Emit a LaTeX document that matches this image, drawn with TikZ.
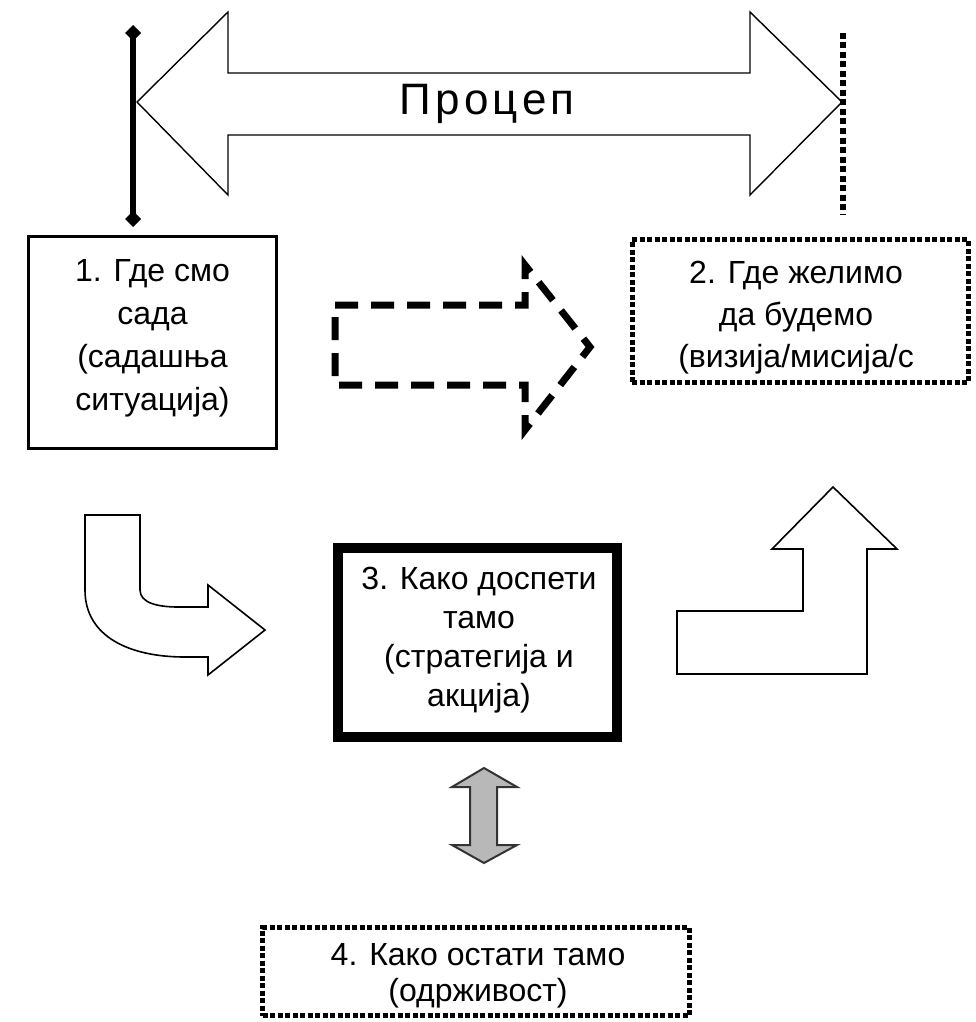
\documentclass[tikz,border=0pt]{standalone}
\usepackage{fontspec}
\setmainfont{Liberation Sans}
\newfontfamily\spaced[LetterSpace=10]{Liberation Sans}
\usetikzlibrary{arrows.meta,calc}
\tikzset{
  outl/.style={draw=black, line width=1.6pt, fill=white, line join=miter},
  boxtext/.style={align=center, inner sep=0pt, font=\fontsize{32}{#1}\selectfont},
  dotbox/.style={draw, line width=5pt, dash pattern=on 5pt off 2.5pt},
  solidbox/.style={draw, line width=3pt},
  heavybox/.style={draw, line width=10pt},
  dashedarrow/.style={draw, line width=7pt, dash pattern=on 23pt off 13pt, line join=miter},
  grayarrow/.style={draw=black!80, line width=2pt, fill=black!28},
  diam/.tip={Diamond[length=16pt,width=16pt]}
}
\begin{document}
\begin{tikzpicture}[x=1pt,y=-1pt]
\useasboundingbox (0,0) rectangle (976,1022);
\fill[white] (0,0) rectangle (976,1022);

% big double arrow "Процеп"
\draw[outl, line width=1.4pt] (137,102) -- (228,12) -- (228,73) -- (750,73) -- (750,12) -- (842,102)
  -- (750,195) -- (750,135) -- (228,135) -- (228,195) -- cycle;
\node[inner sep=0pt, font=\fontsize{44}{44}\selectfont\spaced] (gap) at (487,104) {Процеп};

% left marker bar
\coordinate (bartop) at (133,25);
\coordinate (barbot) at (133,227);
\draw[line width=6pt, diam-diam] (bartop) -- (barbot);

% right dotted marker
\coordinate (dtop) at (843,33);
\coordinate (dbot) at (843,214);
\draw[line width=6pt, dash pattern=on 6pt off 3.5pt] (dtop) -- (dbot);

% box 1
\node[solidbox, minimum width=248pt, minimum height=212pt] (b1) at (152.5,342) {};
\node[boxtext=43pt] (t1) at (152.5,338) {1. Где смо\\сада\\(садашња\\ситуација)};

% box 2
\node[dotbox, minimum width=336pt, minimum height=143pt] (b2) at (800,311) {};
\node[boxtext=42pt] (t2) at (796,318) {2. Где желимо\\да будемо\\(визија/мисија/с};

% dashed arrow
\draw[dashedarrow] (335,305) -- (525,305) -- (525,265) -- (590,347) -- (525,430) -- (525,385) -- (335,385) -- cycle;

% box 3
\node[heavybox, minimum width=279pt, minimum height=189pt] (b3) at (477.5,642.5) {};
\node[boxtext=39pt] (t3) at (479,640) {3. Како доспети\\тамо\\(стратегија и\\акција)};

% curved arrow
\draw[outl] (85,515) -- (140,515) -- (140,590) .. controls (140,603) and (158,607) .. (178,607)
  -- (208,607) -- (208,585) -- (265,630) -- (208,675) -- (208,657) -- (185,657)
  .. controls (130,657) and (85,637) .. (85,590) -- cycle;

% up arrow
\draw[outl] (677,611) -- (803,611) -- (803,549) -- (772,549) -- (833,487) -- (897,549)
  -- (867,549) -- (867,674) -- (677,674) -- cycle;

% gray double arrow
\draw[grayarrow] (484,768) -- (517,787) -- (497,787) -- (497,845) -- (517,845) -- (484,863)
  -- (452,845) -- (470,845) -- (470,787) -- (452,787) -- cycle;

% box 4
\node[dotbox, minimum width=427pt, minimum height=88pt] (b4) at (476,971.5) {};
\node[boxtext=36pt] (t4) at (478,976) {4. Како остати тамо\\(одрживост)};
\end{tikzpicture}
\end{document}
